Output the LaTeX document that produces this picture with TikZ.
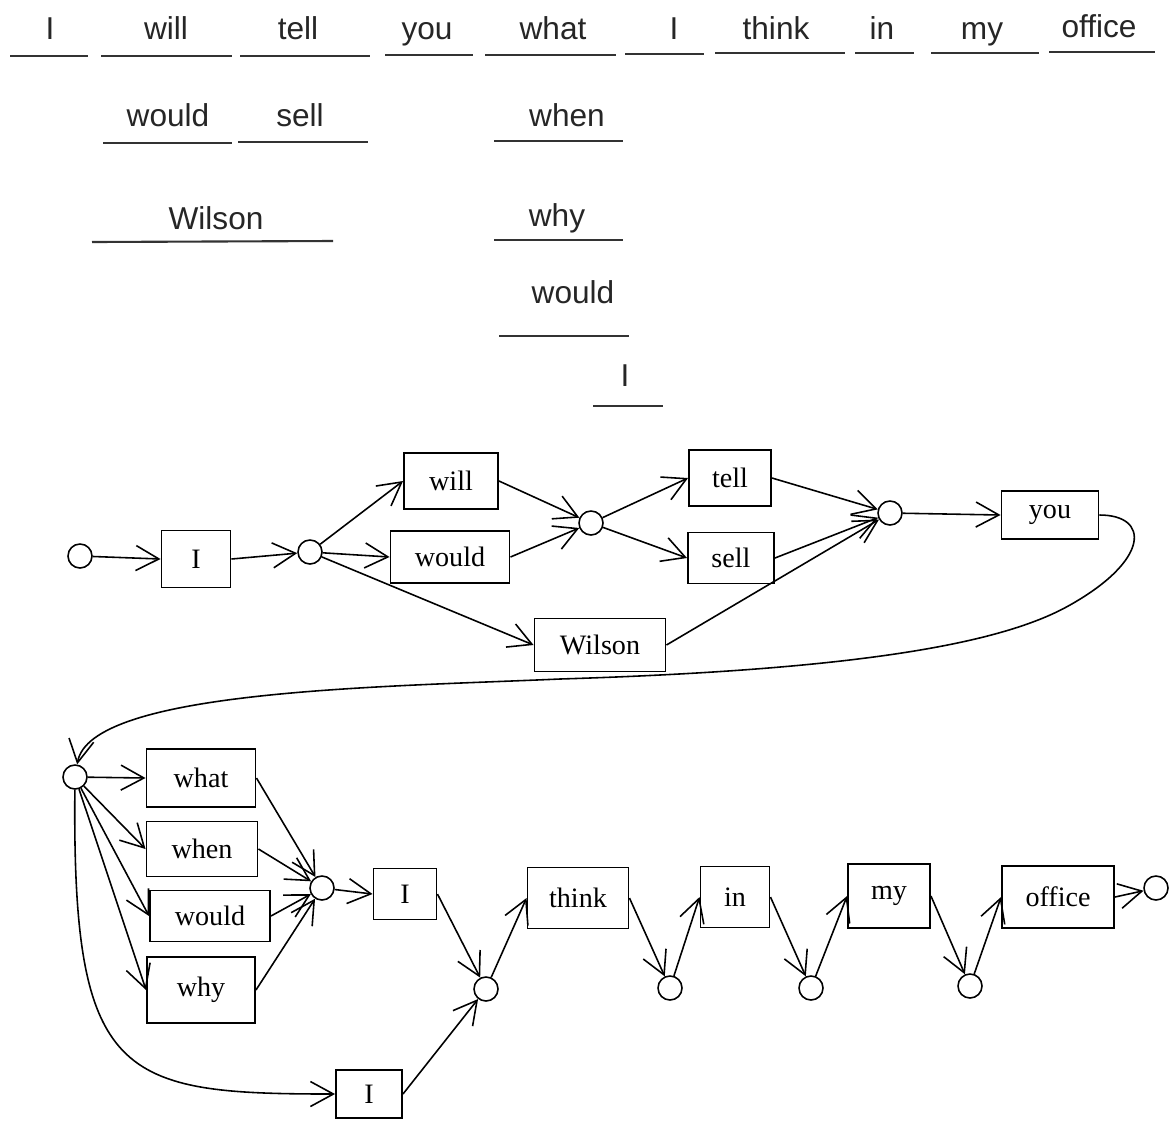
\documentclass[tikz,border=0pt]{standalone}
\usepackage{fontspec}
\setmainfont{Liberation Serif}
\newfontfamily\labelsans{Liberation Sans}
\usetikzlibrary{arrows.meta,calc}
\begin{document}
\begin{tikzpicture}[x=0.02cm,y=-0.02cm,
  word/.style={font=\labelsans\fontsize{18}{20}\selectfont, anchor=base, inner sep=0pt, text=black!85},
  uline/.style={line width=1.2pt, black!80},
  wbox/.style 2 args={draw, line width=1.1pt, inner sep=0pt,
    minimum width=#1*0.02cm, minimum height=#2*0.02cm,
    font=\fontsize{16}{18}\selectfont},
  state/.style={draw, circle, line width=0.9pt, inner sep=0pt, minimum size=0.48cm},
  link/.style={line width=0.9pt, -{Straight Barb[length=0.46cm,width=0.5cm]}},
]
\useasboundingbox (0,0) rectangle (1172,1120);

% ---------- word lattice written as underlined slots ----------
\node[word] (wI)      at (50,39)   {I};        \draw[uline] (10,56)   -- (88,56);
\node[word] (wwill)   at (166,39)  {will};     \draw[uline] (101,56)  -- (232,56);
\node[word] (wtell)   at (298,39)  {tell};     \draw[uline] (240,56)  -- (370,56);
\node[word] (wyou)    at (427,39)  {you};      \draw[uline] (385,55)  -- (473,55);
\node[word] (wwhat)   at (553,39)  {what};     \draw[uline] (485,55)  -- (616,55);
\node[word] (wIb)     at (674,39)  {I};        \draw[uline] (625,54)  -- (704,54);
\node[word] (wthink)  at (776,39)  {think};    \draw[uline] (715,53)  -- (845,53);
\node[word] (win)     at (882,39)  {in};       \draw[uline] (855,53)  -- (914,53);
\node[word] (wmy)     at (982,39)  {my};       \draw[uline] (931,53)  -- (1039,53);
\node[word] (woffice) at (1099,37) {office};   \draw[uline] (1049,52) -- (1155,52);

\node[word] (wwould)  at (168,126) {would};    \draw[uline] (103,143) -- (232,143);
\node[word] (wsell)   at (300,126) {sell};     \draw[uline] (238,142) -- (368,142);
\node[word] (wwhen)   at (567,126) {when};     \draw[uline] (494,141) -- (623,141);

\node[word] (wwilson) at (216,229) {Wilson};   \draw[uline] (92,242)  -- (333,241);
\node[word] (wwhy)    at (557,226) {why};      \draw[uline] (494,240) -- (623,240);

\node[word] (wwouldb) at (573,303) {would};    \draw[uline] (499,336) -- (629,336);
\node[word] (wIc)     at (625,386) {I};        \draw[uline] (593,406) -- (663,406);

% ---------- first half of the network ----------
\node[state] (c0) at (80,556) {};
\node[wbox={69}{57}]  (I1)     at (196,559)  {I};
\node[state] (c1) at (310,552) {};
\node[wbox={94}{56}]  (will)   at (451,481)  {will};
\node[wbox={119}{52}] (would1) at (450,557)  {would};
\node[wbox={131}{53}] (wilson) at (600,645)  {Wilson};
\node[state] (c2) at (591,523) {};
\node[wbox={82}{56}]  (tell)   at (730,478)  {tell};
\node[wbox={86}{51}]  (sell)   at (731,558)  {sell};
\node[state] (c3) at (890,513) {};
\node[wbox={97}{48}]  (you)    at (1050,515) {you};

\draw[link] (c0) -- (I1.west);
\draw[link] (I1.east) -- (c1);
\draw[link] (c1) -- (will.west);
\draw[link] (c1) -- (would1.west);
\draw[link] (c1) -- (wilson.west);
\draw[link] (will.east) -- (c2);
\draw[link] (would1.east) -- (c2);
\draw[link] (c2) -- (tell.west);
\draw[link] (c2) -- (sell.west);
\draw[link] (tell.east) -- (c3);
\draw[link] (sell.east) -- (c3);
\draw[link] (wilson.east) -- (c3);
\draw[link] (c3) -- (you.west);

% ---------- second half of the network ----------
\node[state] (c4) at (75,777) {};
\node[wbox={109}{58}] (what)   at (201,778)  {what};
\node[wbox={111}{55}] (when)   at (202,849)  {when};
\node[wbox={120}{51}] (would2) at (210,916)  {would};
\node[wbox={108}{66}] (why)    at (201,990)  {why};
\node[state] (c5) at (322,888) {};
\node[wbox={63}{51}]  (I2)     at (405,894)  {I};
\node[wbox={66}{48}]  (I3)     at (369,1094) {I};
\node[state] (c6) at (486,989) {};
\node[wbox={101}{61}] (think)  at (578,898)  {think};
\node[state] (c7) at (670,988) {};
\node[wbox={69}{61}]  (in)     at (735,897)  {in};
\node[state] (c8) at (811,988) {};
\node[wbox={82}{64}]  (my)     at (889,896)  {my};
\node[state] (c9) at (970,986) {};
\node[wbox={112}{62}] (office) at (1058,897) {office};
\node[state] (c10) at (1156,888) {};

% link from the first half back round to the second
\draw[link] (you.east) .. controls (1150,515) and (1150,560) .. (1070,605)
  .. controls (1000,645) and (850,670) .. (560,679)
  .. controls (380,687) and (90,690) .. (c4);

\draw[link] (c4) -- (what.west);
\draw[link] (c4) -- (when.west);
\draw[link] (c4) -- (would2.west);
\draw[link] (c4) -- (why.west);
\draw[link] (c4) .. controls (72,1080) and (120,1094) .. (I3.west);
\draw[link] (what.east) -- (c5);
\draw[link] (when.east) -- (c5);
\draw[link] (would2.east) -- (c5);
\draw[link] (why.east) -- (c5);
\draw[link] (c5) -- (I2.west);
\draw[link] (I2.east) -- (c6);
\draw[link] (I3.east) -- (c6);
\draw[link] (c6) -- (think.west);
\draw[link] (think.east) -- (c7);
\draw[link] (c7) -- (in.west);
\draw[link] (in.east) -- (c8);
\draw[link] (c8) -- (my.west);
\draw[link] (my.east) -- (c9);
\draw[link] (c9) -- (office.west);
\draw[link] (office.east) -- (c10);
\end{tikzpicture}
\end{document}
